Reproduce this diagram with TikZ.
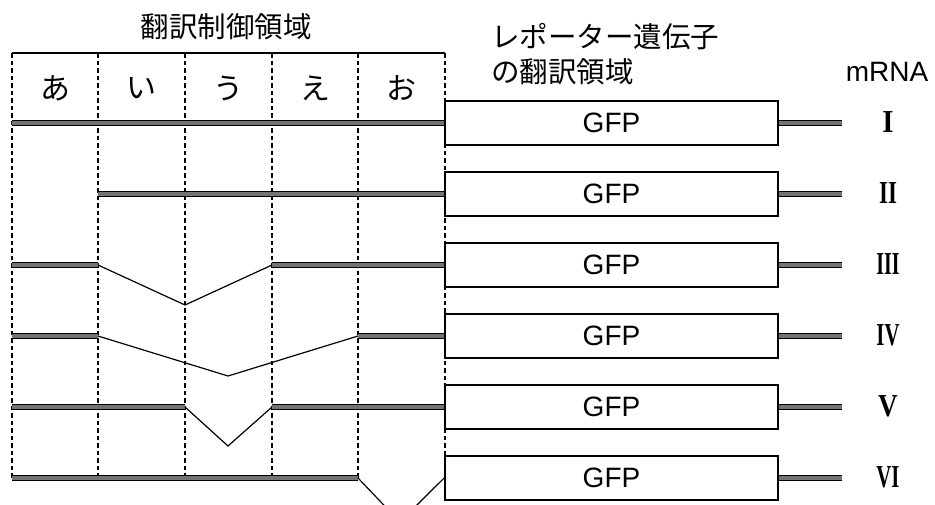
\documentclass[tikz,border=0pt]{standalone}
\usepackage{fontspec}
\setmainfont{Liberation Sans}
\newfontfamily\jpfont{Noto Sans CJK JP}
\newfontfamily\romfont{Liberation Serif}
\begin{document}
\begin{tikzpicture}[x=1pt,y=-1pt,
  rna/.style={draw=black, line width=1pt, double=black!55, double distance=3.8pt},
  splice/.style={draw=black, line width=1.2pt},
  guide/.style={draw=black, line width=1.5pt, dash pattern=on 4.5pt off 3pt},
  gfp/.style={draw=black, line width=1.8pt, fill=white, minimum width=333pt, minimum height=44pt, inner sep=0pt, font=\fontsize{28}{30}\selectfont},
  kana/.style={inner sep=0pt, font=\jpfont\fontsize{30}{32}\selectfont},
  head/.style={inner sep=0pt, font=\jpfont\fontsize{28.5}{32}\selectfont},
  roman/.style={inner sep=0pt, font=\romfont\bfseries\fontsize{32}{34}\selectfont}]
\useasboundingbox (0,0) rectangle (935,504);
\clip (0,0) rectangle (935,504);

% headings
\node[head] (title) at (226,27) {翻訳制御領域};
\node[head, anchor=west] (rep1) at (491,37) {レポーター遺伝子};
\node[head, anchor=west] (rep2) at (491,72) {の翻訳領域};
\node[inner sep=0pt, font=\fontsize{28}{30}\selectfont] (mrna) at (887,72) {mRNA};

% column guides
\coordinate (t0) at (12,53);  \coordinate (b0) at (12,478);
\coordinate (t1) at (98,53);  \coordinate (b1) at (98,478);
\coordinate (t2) at (185,53); \coordinate (b2) at (185,478);
\coordinate (t3) at (272,53); \coordinate (b3) at (272,478);
\coordinate (t4) at (358,53); \coordinate (b4) at (358,478);
\coordinate (t5) at (445,53); \coordinate (b5) at (445,478);
\foreach \i in {0,...,5} { \draw[guide] (t\i) -- (b\i); }
\draw[line width=1.5pt] (t0) -- (t5);

% column labels
\node[kana] (ka) at (55,88) {あ};
\node[kana] (ki) at (141.5,88) {い};
\node[kana] (ku) at (228,88) {う};
\node[kana] (ke) at (315,88) {え};
\node[kana] (ko) at (401.5,88) {お};

% GFP boxes
\node[gfp] (g1) at (611.5,123) {GFP};
\node[gfp] (g2) at (611.5,194) {GFP};
\node[gfp] (g3) at (611.5,265) {GFP};
\node[gfp] (g4) at (611.5,336) {GFP};
\node[gfp] (g5) at (611.5,407) {GFP};
\node[gfp] (g6) at (611.5,478) {GFP};

% roman numerals
\node[roman] (n1) at (888,122) {\scalebox{0.9}[1]{I}};
\node[roman] (n2) at (888,193) {\scalebox{0.72}[1]{II}};
\node[roman] (n3) at (888,264) {\scalebox{0.62}[1]{III}};
\node[roman] (n4) at (888,335) {\scalebox{0.65}[1]{IV}};
\node[roman] (n5) at (888,406) {\scalebox{0.85}[1]{V}};
\node[roman] (n6) at (888,477) {\scalebox{0.65}[1]{VI}};

% tails
\foreach \i/\y in {1/123,2/194,3/265,4/336,5/407,6/478} {
  \coordinate (e\i) at (842,\y);
  \draw[rna] (g\i.east) -- (e\i);
}

% row I
\coordinate (r1a) at (12,123);
\draw[rna] (r1a) -- (g1.west);
% row II
\coordinate (r2a) at (98,194);
\draw[rna] (r2a) -- (g2.west);
% row III
\coordinate (r3a) at (12,265); \coordinate (r3b) at (98,265);
\coordinate (r3v) at (185,305); \coordinate (r3c) at (272,265);
\draw[rna] (r3a) -- (r3b);
\draw[splice] (r3b) -- (r3v) -- (r3c);
\draw[rna] (r3c) -- (g3.west);
% row IV
\coordinate (r4a) at (12,336); \coordinate (r4b) at (98,336);
\coordinate (r4v) at (228,376); \coordinate (r4c) at (358,336);
\draw[rna] (r4a) -- (r4b);
\draw[splice] (r4b) -- (r4v) -- (r4c);
\draw[rna] (r4c) -- (g4.west);
% row V
\coordinate (r5a) at (12,407); \coordinate (r5b) at (185,407);
\coordinate (r5v) at (228,446); \coordinate (r5c) at (272,407);
\draw[rna] (r5a) -- (r5b);
\draw[splice] (r5b) -- (r5v) -- (r5c);
\draw[rna] (r5c) -- (g5.west);
% row VI
\coordinate (r6a) at (12,478); \coordinate (r6b) at (358,478);
\coordinate (r6v) at (400,522);
\draw[rna] (r6a) -- (r6b);
\draw[splice] (r6b) -- (r6v) -- (g6.west);
\end{tikzpicture}
\end{document}
